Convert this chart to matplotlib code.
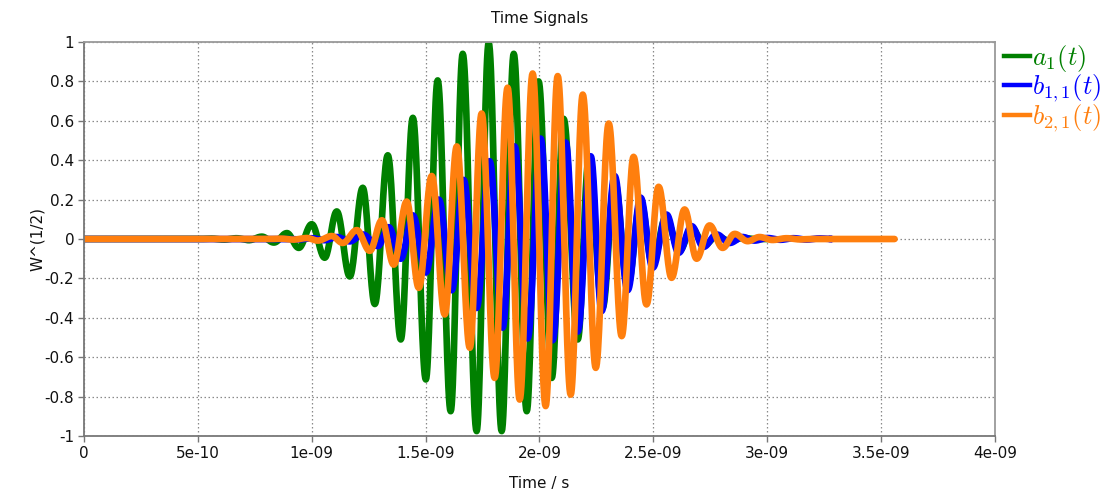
import numpy as np
import matplotlib
matplotlib.use("Agg")
import matplotlib.pyplot as plt
from matplotlib.lines import Line2D

plt.rcParams["mathtext.fontset"] = "cm"
plt.rcParams["font.family"] = ["DejaVu Sans"]

# Successive extrema of each pulse: times in ns and amplitudes in W^(1/2)
a1_t_ns = [0.560, 0.615, 0.670, 0.724, 0.781, 0.834, 0.891, 0.943, 1.000, 1.057,
           1.110, 1.167, 1.224, 1.277, 1.334, 1.391, 1.444, 1.501, 1.553, 1.610,
           1.663, 1.724, 1.777, 1.834, 1.887, 1.944, 1.996, 2.054, 2.106, 2.168,
           2.216, 2.277, 2.330, 2.387, 2.444, 2.497, 2.554, 2.615, 2.668, 2.725,
           2.778, 2.835, 2.892]
a1_val = [0.002, -0.003, 0.004, -0.006, 0.012, -0.018, 0.030, -0.045, 0.075, -0.095,
          0.140, -0.190, 0.260, -0.330, 0.425, -0.510, 0.615, -0.713, 0.805, -0.874,
          0.940, -0.975, 0.995, -0.975, 0.940, -0.874, 0.800, -0.705, 0.610, -0.510,
          0.400, -0.350, 0.300, -0.240, 0.190, -0.130, 0.110, -0.060, 0.055, -0.030,
          0.015, -0.010, 0.005]

b11_t_ns = [0.943, 1.000, 1.057, 1.110, 1.167, 1.224, 1.290, 1.338, 1.391, 1.444,
            1.501, 1.558, 1.615, 1.667, 1.724, 1.781, 1.838, 1.891, 1.948, 2.005,
            2.058, 2.115, 2.168, 2.225, 2.273, 2.330, 2.387, 2.444, 2.497, 2.558,
            2.611, 2.668, 2.720, 2.778, 2.835, 2.892, 2.944, 3.001, 3.058, 3.115,
            3.172, 3.229]
b11_val = [-0.002, 0.004, -0.006, 0.010, -0.012, 0.023, -0.036, 0.060, -0.100, 0.120,
           -0.170, 0.200, -0.260, 0.300, -0.350, 0.395, -0.450, 0.470, -0.505, 0.510,
           -0.514, 0.490, -0.470, 0.420, -0.366, 0.320, -0.260, 0.210, -0.146, 0.124,
           -0.070, 0.065, -0.040, 0.023, -0.020, 0.010, -0.008, 0.005, -0.004, 0.004,
           -0.003, 0.003]

b21_t_ns = [0.865, 0.920, 0.978, 1.027, 1.088, 1.136, 1.198, 1.255, 1.308, 1.360,
            1.417, 1.470, 1.527, 1.584, 1.637, 1.694, 1.746, 1.803, 1.860, 1.913,
            1.970, 2.027, 2.080, 2.137, 2.190, 2.247, 2.304, 2.361, 2.413, 2.470,
            2.523, 2.580, 2.637, 2.690, 2.747, 2.804, 2.857, 2.914, 2.966, 3.023,
            3.085, 3.142]
b21_val = [0.002, -0.003, 0.005, -0.008, 0.015, -0.020, 0.045, -0.060, 0.095, -0.130,
           0.190, -0.248, 0.320, -0.383, 0.470, -0.552, 0.637, -0.705, 0.768, -0.815,
           0.840, -0.848, 0.827, -0.790, 0.733, -0.654, 0.586, -0.493, 0.417, -0.332,
           0.265, -0.197, 0.150, -0.100, 0.069, -0.045, 0.026, -0.011, 0.010, -0.005,
           0.004, -0.002]

# Time span of each recorded signal (ns)
a1_end_ns = 3.00
b11_end_ns = 3.273
b21_end_ns = 3.559

labels = [r"$a_1(t)$", r"$b_{1,1}(t)$", r"$b_{2,1}(t)$"]
colors = ["#008000", "#0000ff", "#ff7f0e"]

x_ticks = [0, 0.5e-9, 1e-9, 1.5e-9, 2e-9, 2.5e-9, 3e-9, 3.5e-9, 4e-9]
x_tick_labels = ["0", "5e-10", "1e-09", "1.5e-09", "2e-09", "2.5e-09", "3e-09", "3.5e-09", "4e-09"]
y_ticks = [-1, -0.8, -0.6, -0.4, -0.2, 0, 0.2, 0.4, 0.6, 0.8, 1]
y_tick_labels = ["-1", "-0.8", "-0.6", "-0.4", "-0.2", "0", "0.2", "0.4", "0.6", "0.8", "1"]


def waveform(t_ns, vals, end_ns, n=24):
    """Join successive extrema with half-cosine arcs, zero before and after."""
    t = np.asarray(t_ns, float)
    v = np.asarray(vals, float)
    half = np.mean(np.diff(t))
    tt = [0.0, t[0] - half]
    vv = [0.0, 0.0]
    knots_t = np.concatenate([[t[0] - half], t, [t[-1] + half]])
    knots_v = np.concatenate([[0.0], v, [0.0]])
    s = np.linspace(0, 1, n)[1:]
    w = (1 - np.cos(np.pi * s)) / 2
    for i in range(len(knots_t) - 1):
        tt.extend(knots_t[i] + (knots_t[i + 1] - knots_t[i]) * s)
        vv.extend(knots_v[i] + (knots_v[i + 1] - knots_v[i]) * w)
    tt.append(end_ns)
    vv.append(0.0)
    return np.array(tt) * 1e-9, np.array(vv)


fig = plt.figure(figsize=(11.02, 4.97), dpi=100)
ax = fig.add_axes([0.0762, 0.1227, 0.8267, 0.7928])

series = [(a1_t_ns, a1_val, a1_end_ns), (b11_t_ns, b11_val, b11_end_ns),
          (b21_t_ns, b21_val, b21_end_ns)]
for (t_ns, vals, end_ns), c in zip(series, colors):
    x, y = waveform(t_ns, vals, end_ns)
    ax.plot(x, y, color=c, lw=4.8, solid_capstyle="round", solid_joinstyle="round")

ax.set_xlim(0, 4e-9)
ax.set_ylim(-1, 1)
ax.set_xticks(x_ticks)
ax.set_xticklabels(x_tick_labels)
ax.set_yticks(y_ticks)
ax.set_yticklabels(y_tick_labels)
ax.tick_params(direction="out", length=4, width=1, color="#777777",
               labelsize=11, labelcolor="#111111", pad=3)
ax.grid(True, color="#8a8a8a", linestyle=(0, (1.2, 2.0)), linewidth=0.9)
ax.set_axisbelow(True)
for side, sp in ax.spines.items():
    sp.set_color("#777777" if side in ("left", "bottom") else "#9a9a9a")
    sp.set_linewidth(1.3)

ax.set_title("Time Signals", fontsize=11, color="#111111", pad=14)
ax.set_xlabel("Time / s", fontsize=11, color="#111111", labelpad=11)
ax.set_ylabel("W^(1/2)", fontsize=11, color="#111111", labelpad=0)

handles = [Line2D([0], [0], color=c, lw=3.2) for c in colors]
leg = fig.legend(handles, labels, loc="upper left", bbox_to_anchor=(0.911, 0.914),
                 frameon=False, fontsize=19, handlelength=1.0, handletextpad=0.05,
                 labelspacing=-0.05, borderaxespad=0, borderpad=0)
for txt, c in zip(leg.get_texts(), colors):
    txt.set_color(c)

fig.savefig("out.png", dpi=100)
